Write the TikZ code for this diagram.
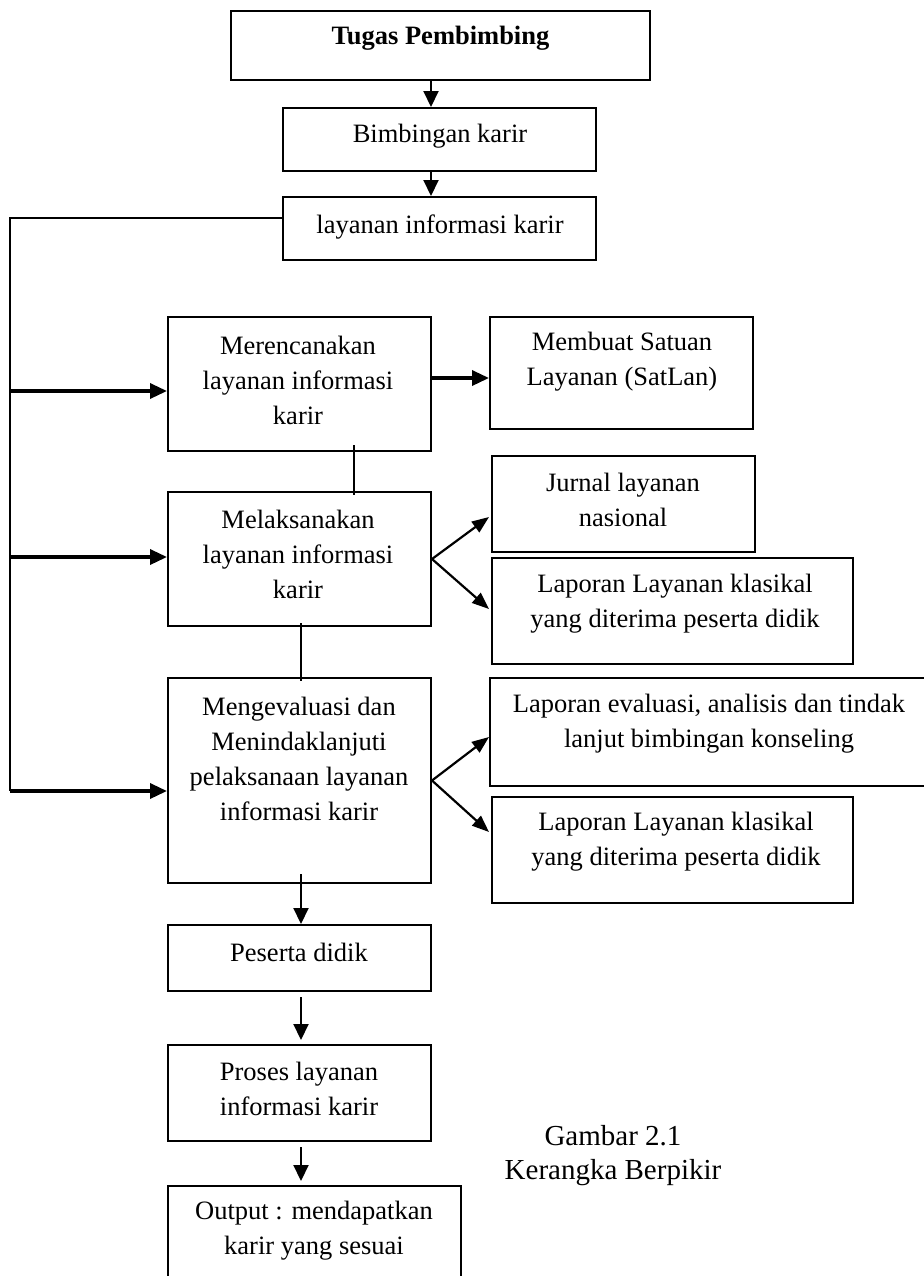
\documentclass[tikz,border=0pt]{standalone}
\usepackage{fontspec}
\setmainfont{Liberation Serif}
\usetikzlibrary{arrows.meta,calc}
\begin{document}
\begin{tikzpicture}[x=0.5pt,y=-0.5pt,
  box/.style={draw, line width=1pt, inner sep=0pt, rectangle},
  txt/.style={align=center, inner sep=0pt, font=\fontsize{13.25}{17.5}\selectfont},
  thinarr/.style={line width=1pt, -{Triangle[length=8pt,width=7.5pt]}},
  thickarr/.style={line width=1.7pt, -{Triangle[length=8.5pt,width=7.5pt]}},
  diagarr/.style={line width=1.1pt, -{Triangle[length=8.5pt,width=6.5pt]}},
  link/.style={line width=0.6pt}]
\useasboundingbox (0,0) rectangle (924,1276);
% boxes
\node[box, minimum width=209.5pt, minimum height=34.5pt] (tug) at (440.5,45.5) {};
\node[box, minimum width=156.5pt, minimum height=31.5pt] (bim) at (439.5,139.5) {};
\node[box, minimum width=156.5pt, minimum height=31.5pt] (lay) at (439.5,228.5) {};
\node[box, minimum width=131.5pt, minimum height=67pt] (mer) at (299.5,384) {};
\node[box, minimum width=131.5pt, minimum height=56pt] (mem) at (621.5,373) {};
\node[box, minimum width=131.5pt, minimum height=67pt] (mel) at (299.5,559) {};
\node[box, minimum width=131.5pt, minimum height=48pt] (jur) at (623.5,504) {};
\node[box, minimum width=180.5pt, minimum height=53pt] (lap1) at (672.5,611) {};
\node[box, minimum width=131.5pt, minimum height=102.5pt] (mev) at (299.5,780.5) {};
\node[box, minimum width=225pt, minimum height=54pt] (lev) at (715,732) {};
\node[box, minimum width=180.5pt, minimum height=53pt] (lap2) at (672.5,850) {};
\node[box, minimum width=131.5pt, minimum height=33pt] (pes) at (299.5,958) {};
\node[box, minimum width=131.5pt, minimum height=48pt] (pro) at (299.5,1093) {};
\node[box, minimum width=146.5pt, minimum height=52pt] (out) at (314.5,1238) {};
% texts
\node[txt, font=\fontsize{13.25}{17.5}\selectfont\bfseries] (ttug) at (440.5,38) {Tugas Pembimbing};
\node[txt] (tbim) at (440,136) {Bimbingan karir};
\node[txt] (tlay) at (440,227) {layanan informasi karir};
\node[txt] (tmer) at (298,380) {Merencanakan\\layanan informasi\\karir};
\node[txt] (tmem) at (622,362) {Membuat Satuan\\Layanan (SatLan)};
\node[txt] (tmel) at (298,554) {Melaksanakan\\layanan informasi\\karir};
\node[txt] (tjur) at (623,500) {Jurnal layanan\\nasional};
\node[txt] (tlap1) at (675,604) {Laporan Layanan klasikal\\yang diterima peserta didik};
\node[txt] (tmev) at (299,759) {Mengevaluasi dan\\Menindaklanjuti\\pelaksanaan layanan\\informasi karir};
\node[txt] (tlev) at (709,724) {Laporan evaluasi, analisis dan tindak\\lanjut bimbingan konseling};
\node[txt] (tlap2) at (676,842) {Laporan Layanan klasikal\\yang diterima peserta didik};
\node[txt] (tpes) at (299,952) {Peserta didik};
\node[txt] (tpro) at (299,1089) {Proses layanan\\informasi karir};
\node[txt] (tout) at (314,1231) {Output : mendapatkan\\karir yang sesuai};
\node[txt, font=\fontsize{14.5}{17}\selectfont] (cap) at (613,1156) {Gambar 2.1\\Kerangka Berpikir};
% top arrows
\draw[thinarr] ($(tug.south)+(-9.5,0)$) -- ($(bim.north)+(-8.5,0)$);
\draw[thinarr] ($(bim.south)+(-8.5,0)$) -- ($(lay.north)+(-8.5,0)$);
% left feedback line
\coordinate (L0) at (9.5,218);
\coordinate (L1) at (9.5,391);
\coordinate (L2) at (9.5,557);
\coordinate (L3) at (9.5,791);
\draw[line width=1pt] (lay.west |- L0) -- (L0) -- (L3);
\draw[thickarr] (L1) -- (L1 -| mer.west);
\draw[thickarr] (L2) -- (L2 -| mel.west);
\draw[thickarr] (L3) -- (L3 -| mev.west);
% right arrows
\draw[thickarr] ($(mer.east)+(0,-6)$) -- ($(mem.west)+(0,5)$);
\draw[diagarr] (mel.east) -- ($(jur.west)+(-2,13)$);
\draw[diagarr] (mel.east) -- ($(lap1.west)+(-2,-2)$);
\draw[diagarr] (mev.east) -- ($(lev.west)+(0,5)$);
\draw[diagarr] (mev.east) -- ($(lap2.west)+(-2,-18)$);
% vertical links
\draw[link] ($(mer.south)+(54.5,-7)$) -- ($(mel.north)+(54.5,4)$);
\draw[link] ($(mel.south)+(1.5,-4)$) -- ($(mev.north)+(1.5,4)$);
\draw[thinarr] ($(mev.south)+(1.5,-10)$) -- ($(pes.north)+(1.5,0)$);
\draw[thinarr] ($(pes.south)+(1.5,5)$) -- ($(pro.north)+(1.5,-4)$);
\draw[thinarr] ($(pro.south)+(1.5,5)$) -- ($(out.north)+(-13.5,-4)$);
\end{tikzpicture}
\end{document}
